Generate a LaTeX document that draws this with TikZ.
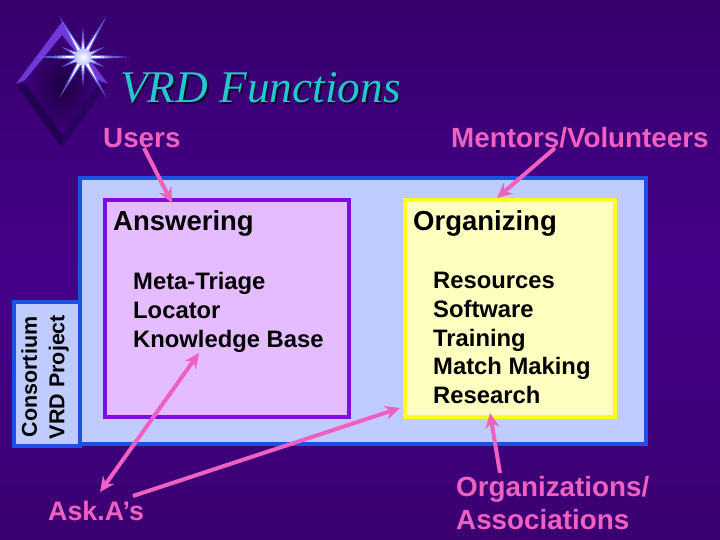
\documentclass[tikz,border=0pt]{standalone}
\usepackage{fontspec}
\setmainfont{Liberation Sans}
\newfontfamily\titlefont{Liberation Serif}
\usetikzlibrary{arrows.meta,shadings,calc}
\definecolor{bgtop}{HTML}{36006C}
\definecolor{bgbot}{HTML}{3A0070}
\definecolor{bgmid}{HTML}{46008A}
\definecolor{pinkc}{HTML}{F060C0}
\definecolor{tealc}{HTML}{22C8D0}
\definecolor{outerb}{HTML}{1E50E8}
\definecolor{outerf}{HTML}{C0CCFF}
\definecolor{purpb}{HTML}{7A10E0}
\definecolor{purpf}{HTML}{E4BCFF}
\definecolor{yelb}{HTML}{FFFF20}
\definecolor{yelf}{HTML}{FFFFC0}
\definecolor{chevlight}{HTML}{7038D8}
\definecolor{chevdark}{HTML}{2A0060}
\definecolor{chevdarker}{HTML}{240054}
\definecolor{diamondcore}{HTML}{1C0040}
\tikzset{
  x=1pt,y=-1pt,
  panelouter/.style={draw=outerb,fill=outerf,line width=4pt},
  panelpurple/.style={draw=purpb,fill=purpf,line width=4pt,outer sep=0pt,inner sep=0pt,anchor=north west},
  panelyellow/.style={draw=yelb,fill=yelf,line width=4pt,outer sep=0pt,inner sep=0pt,anchor=north west},
  pinklabel/.style={text=pinkc,font=\fontsize{27.8}{33.5}\selectfont\bfseries,inner sep=0pt,anchor=base west,align=left},
  pinkblock/.style={text=pinkc,font=\fontsize{27.8}{33.5}\selectfont\bfseries,inner sep=0pt,anchor=north west,align=left},
  headlabel/.style={text=black,font=\fontsize{27.5}{33}\selectfont\bfseries,inner sep=0pt,anchor=base west},
  bodylabel/.style={text=black,font=\fontsize{23.8}{28.8}\selectfont\bfseries,inner sep=0pt,anchor=north west,align=left},
  sidelabel/.style={text=black,font=\fontsize{21.5}{27.5}\selectfont\bfseries,inner sep=0pt,align=center,rotate=90},
  pinkarrow/.style={draw=pinkc,line width=4pt,-{Stealth[length=15pt,width=14pt]}},
  pinkdouble/.style={draw=pinkc,line width=4pt,{Stealth[length=15pt,width=14pt]}-{Stealth[length=15pt,width=14pt]}},
  spikeblue/.style={fill=blue!55!white,draw=none,fill opacity=.75},
  spikewhite/.style={fill=white,draw=none},
  titletext/.style={inner sep=0pt,anchor=base west,font=\titlefont\itshape\fontsize{45.3}{50}\selectfont}
}
\newcommand{\spikepair}[2]{%
  \fill[spikeblue] ($(83,57)+(#1+90:3.2)$) -- ($(83,57)+(#1:#2)$) -- ($(83,57)+(#1-90:3.2)$) -- cycle;
  \fill[spikewhite] ($(83,57)+(#1+90:1.8)$) -- ($(83,57)+(#1:0.62*#2)$) -- ($(83,57)+(#1-90:1.8)$) -- cycle;}
\begin{document}
\begin{tikzpicture}
\useasboundingbox (0,0) rectangle (720,540);
\shade[top color=bgtop,bottom color=bgbot,middle color=bgmid] (0,0) rectangle (720,540);
% diamond logo
\shade[inner color=diamondcore,outer color=bgmid] (16,84) -- (62,22) -- (108,84) -- (62,148) -- cycle;
\fill[chevdark] (16,84) -- (62,148) -- (108,84) -- (98,84) -- (62,135) -- (26,84) -- cycle;
\fill[chevdarker] (16,84) -- (26,84) -- (62,135) -- (62,148) -- cycle;
\fill[chevlight] (16,84) -- (62,22) -- (108,84) -- (98,80) -- (62,35) -- (25,80) -- cycle;
% star
\foreach \a/\l in {0/47,180/47,90/30,-90/30}{\spikepair{\a}{\l}}
\foreach \a/\l in {60/48,120/48,-60/48,-120/48}{\spikepair{\a}{\l}}
\foreach \a/\l in {25/24,155/24,-25/24,-155/24}{\spikepair{\a}{\l}}
\shade[inner color=white,outer color=white!75!blue] (83,57) circle (8.5);
% title
\node[titletext,text=black!70!bgmid] at (121.5,104.5) {VRD Functions};
\node[titletext,text=tealc] (title) at (120,103) {VRD Functions};
% panels
\path[panelouter] (80,178) rectangle (646,444);
\path[panelouter] (14,302) rectangle (80,446);
\node[sidelabel] (side) at (45,377) {Consortium\\VRD Project};
\node[panelpurple,minimum width=244pt,minimum height=217pt] (answer) at (105,200) {};
\node[panelyellow,minimum width=210pt,minimum height=217pt] (organize) at (405,200) {};
\node[headlabel] (answerh) at (113,230) {Answering};
\node[headlabel] (organizeh) at (413,230) {Organizing};
\node[bodylabel] (answerb) at (133,272) {Meta-Triage\\Locator\\Knowledge Base};
\node[bodylabel] (organizeb) at (433,272) {Resources\\Software\\Training\\Match Making\\Research};
% outer labels
\node[pinklabel] (users) at (103,148) {Users};
\node[pinklabel] (mentors) at (451,148) {Mentors/Volunteers};
\node[pinklabel,font=\fontsize{26.8}{33}\selectfont\bfseries] (aska) at (48,520) {Ask.A’s};
\node[pinkblock] (orgs) at (456,476) {Organizations/\\Associations};
% connectors
\coordinate (usersEnd) at (144,148);
\coordinate (usersTip) at (172,203);
\coordinate (mentorsEnd) at (555,148);
\coordinate (mentorsTip) at (497,198);
\coordinate (askTop) at (199,353);
\coordinate (askBot) at (100,492);
\coordinate (askStart) at (133,496);
\coordinate (orgTip) at (400,408);
\coordinate (assocEnd) at (500,473);
\coordinate (assocTip) at (490,413);
\draw[pinkarrow] (usersEnd) -- (usersTip);
\draw[pinkarrow] (mentorsEnd) -- (mentorsTip);
\draw[pinkdouble] (askTop) -- (askBot);
\draw[pinkarrow] (askStart) -- (orgTip);
\draw[pinkarrow] (assocEnd) -- (assocTip);
\end{tikzpicture}
\end{document}
